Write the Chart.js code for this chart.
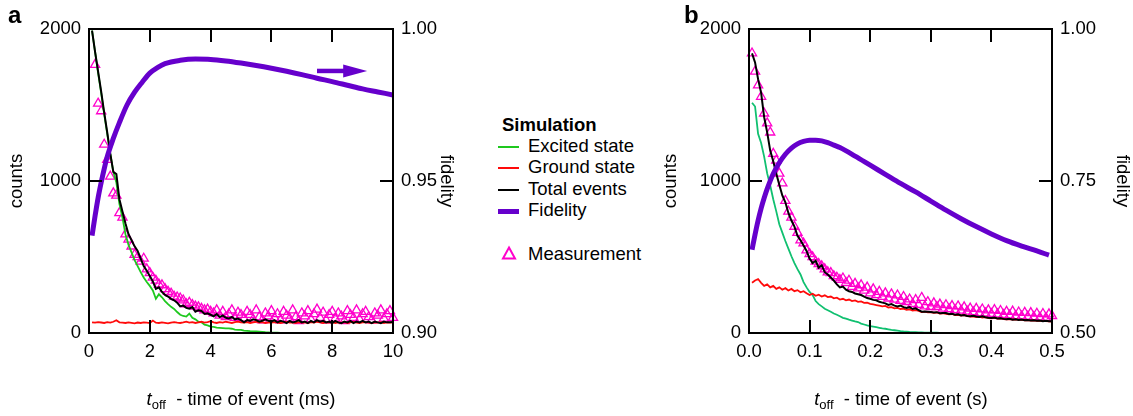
<!DOCTYPE html>
<html>
<head>
<meta charset="utf-8">
<script src="https://cdn.jsdelivr.net/npm/chart.js@4.4.0/dist/chart.umd.min.js"></script>
<style>
  body { margin: 0; width: 1133px; height: 416px; background: #fff; position: relative; overflow: hidden;
         font-family: "Liberation Sans", Arial, sans-serif; color: #000; }
  canvas { position: absolute; top: 0; }
  .t { position: absolute; white-space: nowrap; line-height: 1; font-size: 18.5px; }
  .panel { position: absolute; font-weight: bold; font-size: 24px; line-height: 1; }
  .sw { position: absolute; }
  .xt sub { font-size: 13px; vertical-align: -4px; line-height: 1; }
</style>
</head>
<body>
<canvas id="panelA" width="470" height="416" style="left:0px"></canvas>
<canvas id="panelB" width="483" height="416" style="left:650px"></canvas>

<div class="panel" style="left:8px;top:2.7px">a</div>
<div class="panel" style="left:684px;top:2.7px">b</div>

<div class="t xt" style="left:241px;top:390.3px;transform:translateX(-50%)"><i>t</i><sub>off</sub>&nbsp;&nbsp;- time of event (ms)</div>
<div class="t xt" style="left:901px;top:390.3px;transform:translateX(-50%)"><i>t</i><sub>off</sub>&nbsp;&nbsp;- time of event (s)</div>

<!-- legend -->
<div class="t" style="left:502px;top:116.3px;font-weight:bold">Simulation</div>
<div class="sw" style="left:498px;top:145.7px;width:21px;height:2px;background:#1ec81e"></div>
<div class="t" style="left:528px;top:137px">Excited state</div>
<div class="sw" style="left:498px;top:167.3px;width:21px;height:2px;background:#ff0a0a"></div>
<div class="t" style="left:528px;top:158.3px">Ground state</div>
<div class="sw" style="left:498px;top:189px;width:21px;height:2px;background:#000"></div>
<div class="t" style="left:528px;top:179.8px">Total events</div>
<div class="sw" style="left:498px;top:208.5px;width:21px;height:5px;background:#6600cc"></div>
<div class="t" style="left:528px;top:201.3px">Fidelity</div>
<svg class="sw" style="left:500px;top:244px" width="18" height="18">
  <polygon points="9,3.5 15,14.5 3,14.5" fill="none" stroke="#ff00cc" stroke-width="2"/>
</svg>
<div class="t" style="left:528px;top:245px">Measurement</div>

<script>
// ---------- panel a : times in ms ----------
const timeA = [
  0.1,0.2,0.3,0.4,0.5,0.6,0.7,0.8,0.9,1.0,
  1.1,1.2,1.3,1.4,1.5,1.6,1.7,1.8,1.9,2.0,
  2.1,2.2,2.3,2.4,2.5,2.6,2.7,2.8,2.9,3.0,
  3.1,3.2,3.3,3.4,3.5,3.6,3.7,3.8,3.9,4.0,
  4.1,4.2,4.3,4.4,4.5,4.6,4.7,4.8,4.9,5.0,
  5.1,5.2,5.3,5.4,5.5,5.6,5.7,5.8,5.9,6.0,
  6.1,6.2,6.3,6.4,6.5,6.6,6.7,6.8,6.9,7.0,
  7.1,7.2,7.3,7.4,7.5,7.6,7.7,7.8,7.9,8.0,
  8.1,8.2,8.3,8.4,8.5,8.6,8.7,8.8,8.9,9.0,
  9.1,9.2,9.3,9.4,9.5,9.6,9.7,9.8,9.9,10.0
];
const excitedA = [
  1990,1850,1710,1580,1440,1310,1180,1060,990,850,
  760,650,580,530,480,440,400,365,335,310,
  280,225,255,235,210,190,172,158,138,120,
  112,108,128,100,90,75,70,55,50,42,
  40,36,34,32,30,30,28,22,20,20,
  16,14,12,11,10,9,8,5,4,3,
  2,2,1,1,1,1,0,0,0,0,
  0,0,0,0,0,0,0,0,0,0,
  0,0,0,0,0,0,0,0,0,0,
  0,0,0,0,0,null,null,null,null,null
];
const groundA = [
  70,68,72,69,66,71,68,74,84,70,
  68,66,70,67,64,69,66,70,68,65,
  82,68,66,70,67,64,69,72,68,66,
  70,75,68,72,66,70,74,68,72,78,
  70,66,72,68,74,70,66,72,75,70,
  68,72,66,70,74,68,72,66,70,68,
  72,68,66,70,74,68,70,66,72,68,
  70,66,72,68,74,70,66,70,68,72,
  66,70,68,72,66,70,74,68,66,70,
  72,68,66,70,68,72,66,70,68,70
];
const totalA = [
  1990,1850,1720,1590,1450,1320,1180,1060,1045,880,
  800,720,650,610,570,540,490,440,410,375,
  340,290,300,270,250,240,225,215,200,175,
  180,165,160,170,140,150,145,125,130,120,
  110,125,105,115,100,95,105,90,95,85,
  70,85,80,90,85,75,80,90,80,75,
  85,70,80,75,65,80,70,75,85,70,
  75,65,80,70,85,75,80,70,75,65,
  80,70,65,75,70,80,65,75,70,80,
  70,75,65,75,70,65,75,70,70,72
];
const measuredA = [
  null,1765,1510,1460,1240,1140,1030,920,905,790,
  760,650,615,570,515,500,470,490,420,395,
  365,345,320,315,290,272,260,240,235,228,
  215,190,200,185,175,170,160,150,155,140,
  130,150,115,140,105,125,150,100,135,120,
  95,140,120,90,150,105,85,130,110,145,
  100,125,85,140,115,95,150,105,80,130,
  110,145,90,125,155,100,135,85,120,140,
  95,130,110,80,145,120,100,150,90,125,
  140,105,85,130,115,150,95,125,145,100
];
const fidTimeA = [0.1,0.2,0.3,0.4,0.5,0.6,0.8,1.0,1.25,1.5,1.75,2.0,2.25,2.5,3.0,3.5,4.0,4.5,5.0,5.5,6.0,6.5,7.0,7.5,8.0,8.5,9.0,9.5,10.0];
const fidelityA = [0.9320,0.9385,0.9445,0.9495,0.9540,0.9580,0.9640,0.9692,0.9750,0.9792,0.9825,0.9855,0.9873,0.9886,0.9897,0.9901,0.9900,0.9895,0.9888,0.9880,0.9871,0.9861,0.9850,0.9838,0.9827,0.9815,0.9803,0.9793,0.9783];
const arrowTimeA = [7.5, 9.15];
const arrowFidA = 0.9862;

// ---------- panel b : times in s ----------
const timeB = [
  0.005,0.010,0.015,0.020,0.025,0.030,0.035,0.040,0.045,0.050,
  0.055,0.060,0.065,0.070,0.075,0.080,0.085,0.090,0.095,0.100,
  0.105,0.110,0.115,0.120,0.125,0.130,0.135,0.140,0.145,0.150,
  0.155,0.160,0.165,0.170,0.175,0.180,0.185,0.190,0.195,0.200,
  0.205,0.210,0.215,0.220,0.225,0.230,0.235,0.240,0.245,0.250,
  0.255,0.260,0.265,0.270,0.275,0.280,0.285,0.290,0.295,0.300,
  0.305,0.310,0.315,0.320,0.325,0.330,0.335,0.340,0.345,0.350,
  0.355,0.360,0.365,0.370,0.375,0.380,0.385,0.390,0.395,0.400,
  0.405,0.410,0.415,0.420,0.425,0.430,0.435,0.440,0.445,0.450,
  0.455,0.460,0.465,0.470,0.475,0.480,0.485,0.490,0.495,0.500
];
const excitedB = [
  1515,1490,1310,1250,1160,1050,970,880,800,715,
  660,605,555,505,460,420,385,335,300,270,
  250,210,190,175,160,150,140,128,120,110,
  100,95,88,82,76,72,62,56,50,46,
  42,38,34,30,28,24,20,18,15,12,
  10,9,7,6,5,4,4,3,3,2,
  2,2,1,1,1,1,1,0,0,0,
  0,0,0,0,0,0,0,0,0,0,
  0,0,0,0,0,0,0,0,0,0,
  0,0,0,0,0,0,0,0,0,0
];
const groundB = [
  330,345,355,330,310,320,300,310,290,300,
  285,295,280,290,275,282,268,275,262,250,
  258,245,252,240,248,236,240,228,232,220,
  225,215,220,210,214,205,208,198,200,192,
  188,184,180,175,178,168,170,162,165,158,
  160,152,155,148,150,145,138,140,136,138,
  133,135,128,130,126,122,125,118,120,115,
  117,112,108,110,105,107,102,104,98,96,
  99,94,96,92,90,91,88,90,86,87,
  84,85,82,83,80,81,78,79,76,75
];
const totalB = [
  1840,1780,1670,1580,1420,1320,1200,1130,1050,975,
  905,860,790,740,700,640,610,575,540,490,
  460,475,430,445,400,385,365,345,320,300,
  305,285,275,270,260,255,250,240,230,225,
  218,215,205,200,195,185,190,180,175,180,
  170,165,170,158,162,150,140,142,140,138,
  135,137,130,131,132,125,126,120,123,115,
  118,112,110,113,108,105,110,104,100,98,
  102,95,97,93,90,94,88,90,86,88,
  84,85,82,84,80,82,78,80,77,78
];
const measuredB = [
  1840,1720,1630,1555,1445,1380,1320,1180,1135,1050,
  985,870,800,760,700,660,610,590,545,520,
  500,470,455,440,420,400,395,375,365,350,
  360,330,345,305,325,295,315,280,300,262,
  288,250,272,238,262,228,255,220,248,212,
  238,205,222,192,218,186,232,176,204,172,
  196,172,188,162,184,158,178,152,176,148,
  170,142,162,138,160,132,156,130,150,126,
  152,124,146,120,140,116,142,112,136,110,
  134,108,132,106,128,102,126,100,124,112
];
const fidTimeB = [0.005,0.01,0.015,0.02,0.025,0.03,0.04,0.05,0.06,0.07,0.08,0.09,0.10,0.11,0.12,0.13,0.14,0.15,0.175,0.20,0.225,0.25,0.275,0.30,0.325,0.35,0.375,0.40,0.425,0.45,0.475,0.495];
const fidelityB = [0.637,0.662,0.685,0.705,0.722,0.737,0.762,0.780,0.794,0.804,0.811,0.815,0.817,0.8172,0.816,0.813,0.809,0.805,0.791,0.776,0.761,0.746,0.732,0.717,0.702,0.688,0.675,0.663,0.652,0.643,0.635,0.628];

// ---------- axes ----------
const countTicks = [0, 1000, 2000];
const xTicksA = [0, 2, 4, 6, 8, 10];
const fidTicksA = [0.90, 0.95, 1.00];
const xTicksB = [0, 0.1, 0.2, 0.3, 0.4, 0.5];
const fidTicksB = [0.50, 0.75, 1.00];

const FONT = '"Liberation Sans", Arial, sans-serif';
Chart.defaults.font.family = FONT;
Chart.defaults.font.size = 18.5;
Chart.defaults.color = '#000';

function pts(xs, ys) {
  const out = [];
  xs.forEach((x, i) => { if (ys[i] !== null && ys[i] !== undefined) out.push({x: x, y: ys[i]}); });
  return out;
}

// inward tick marks, plot frame and the optional axis arrow
const frameTicks = {
  id: 'frameTicks',
  afterDatasetsDraw(chart, args, opts) {
    const {ctx, chartArea: a} = chart;
    const {x, y, y2} = chart.scales;
    const L = 13;
    ctx.save();
    ctx.strokeStyle = '#000';
    ctx.lineWidth = 2;
    ctx.beginPath();
    x.ticks.forEach(t => {
      const p = Math.round(x.getPixelForValue(t.value));
      ctx.moveTo(p, a.bottom); ctx.lineTo(p, a.bottom - L);
      ctx.moveTo(p, a.top); ctx.lineTo(p, a.top + L);
    });
    y.ticks.forEach(t => {
      const p = Math.round(y.getPixelForValue(t.value));
      ctx.moveTo(a.left, p); ctx.lineTo(a.left + L, p);
    });
    y2.ticks.forEach(t => {
      const p = Math.round(y2.getPixelForValue(t.value));
      ctx.moveTo(a.right, p); ctx.lineTo(a.right - L, p);
    });
    ctx.stroke();
    ctx.strokeRect(a.left, a.top, a.right - a.left, a.bottom - a.top);
    if (opts.arrow) {
      const x0 = x.getPixelForValue(opts.arrow.from);
      const x1 = x.getPixelForValue(opts.arrow.to);
      const yy = y2.getPixelForValue(opts.arrow.level);
      const head = 24;
      ctx.strokeStyle = opts.arrow.color;
      ctx.fillStyle = opts.arrow.color;
      ctx.lineWidth = 4.5;
      ctx.beginPath();
      ctx.moveTo(x0, yy); ctx.lineTo(x1 - head + 2, yy);
      ctx.stroke();
      ctx.beginPath();
      ctx.moveTo(x1, yy); ctx.lineTo(x1 - head, yy - 6.5); ctx.lineTo(x1 - head, yy + 6.5);
      ctx.closePath();
      ctx.fill();
    }
    ctx.restore();
  }
};

function makePanel(id, p) {
  const W = document.getElementById(id).width;
  const setTicks = arr => s => { s.ticks = arr.map(v => ({value: v})); };
  return new Chart(document.getElementById(id), {
    type: 'line',
    data: {
      datasets: [
        { label: 'Fidelity', data: pts(p.fidTime, p.fidelity), yAxisID: 'y2',
          borderColor: '#6600cc', borderWidth: 5, pointRadius: 0, cubicInterpolationMode: 'monotone', borderCapStyle: 'butt' },
        { label: 'Total events', data: pts(p.time, p.total), yAxisID: 'y',
          borderColor: '#000', borderWidth: 2, pointRadius: 0, tension: 0 },
        { label: 'Ground state', data: pts(p.time, p.ground), yAxisID: 'y',
          borderColor: '#ff0a0a', borderWidth: 1.8, pointRadius: 0, tension: 0 },
        { label: 'Excited state', data: pts(p.time, p.excited), yAxisID: 'y',
          borderColor: p.green, borderWidth: 1.8, pointRadius: 0, tension: 0 },
        { label: 'Measurement', data: pts(p.time, p.measured), yAxisID: 'y',
          showLine: false, pointStyle: 'triangle', pointRadius: 5.3, pointBorderWidth: 1.3,
          pointBorderColor: '#ff00cc', pointBackgroundColor: 'rgba(0,0,0,0)', clip: false }
      ]
    },
    options: {
      responsive: false,
      animation: false,
      events: [],
      layout: { padding: { left: 0, right: 0, top: 29, bottom: 0 } },
      plugins: { legend: { display: false }, tooltip: { enabled: false },
                 frameTicks: { arrow: p.arrow || null } },
      scales: {
        x: {
          type: 'linear', position: 'bottom', min: p.xMin, max: p.xMax,
          grid: { display: false, drawTicks: false }, border: { display: false },
          ticks: { padding: 8, maxRotation: 0, autoSkip: false, callback: p.xFmt },
          afterBuildTicks: setTicks(p.xTicks),
          afterFit: s => { s.height = 83; }
        },
        y: {
          type: 'linear', position: 'left', min: 0, max: 2000,
          grid: { display: false, drawTicks: false }, border: { display: false },
          ticks: { padding: 8, callback: v => String(v) },
          afterBuildTicks: setTicks(countTicks),
          title: { display: true, text: 'counts', padding: { top: p.countsPad, bottom: 0 } },
          afterFit: s => { s.width = p.left; }
        },
        y2: {
          type: 'linear', position: 'right', min: p.fidTicks[0], max: p.fidTicks[p.fidTicks.length - 1],
          grid: { display: false, drawTicks: false }, border: { display: false },
          ticks: { padding: 8, callback: v => v.toFixed(2) },
          afterBuildTicks: setTicks(p.fidTicks),
          title: { display: true, text: 'fidelity', padding: { top: p.fidPad, bottom: 0 } },
          afterFit: s => { s.width = W - p.right; }
        }
      }
    },
    plugins: [frameTicks]
  });
}

makePanel('panelA', {
  time: timeA, excited: excitedA, ground: groundA, total: totalA, measured: measuredA,
  fidTime: fidTimeA, fidelity: fidelityA, green: '#1ec81e',
  xMin: 0, xMax: 10, xTicks: xTicksA, xFmt: v => String(v), fidTicks: fidTicksA,
  left: 89, right: 393, countsPad: 5.5, fidPad: 12.9,
  arrow: { from: arrowTimeA[0], to: arrowTimeA[1], level: arrowFidA, color: '#6600cc' }
});

makePanel('panelB', {
  time: timeB, excited: excitedB, ground: groundB, total: totalB, measured: measuredB,
  fidTime: fidTimeB, fidelity: fidelityB, green: '#10c070',
  xMin: 0, xMax: 0.5, xTicks: xTicksB, xFmt: v => v.toFixed(1), fidTicks: fidTicksB,
  left: 99, right: 402, countsPad: 10.2, fidPad: 0
});
</script>
</body>
</html>
